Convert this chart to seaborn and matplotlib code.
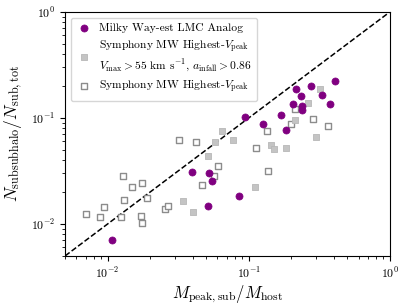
import numpy as np
import pandas as pd
import matplotlib
matplotlib.use('Agg')
import matplotlib.pyplot as plt
import seaborn as sns

# LMC analogs (purple circles)
lmc_mass = [0.0107, 0.0399, 0.0524, 0.0552, 0.0516, 0.0854, 0.0942, 0.1252, 0.1693,
            0.1837, 0.2070, 0.2174, 0.2346, 0.2397, 0.2373, 0.2775, 0.3304, 0.3765, 0.4105]
lmc_frac = [0.00708, 0.0310, 0.0305, 0.0257, 0.01482, 0.0183, 0.1020, 0.0876, 0.1077,
            0.0769, 0.1353, 0.1887, 0.1609, 0.1296, 0.1195, 0.1988, 0.1656, 0.1344, 0.2207]

# Symphony highest-Vpeak with Vmax / a_infall cut (filled grey squares)
cut_mass = [0.0647, 0.0573, 0.0770, 0.0515, 0.0401, 0.1108, 0.1432, 0.1511, 0.1837,
            0.2118, 0.2630, 0.3214, 0.2982, 0.0343]
cut_frac = [0.0757, 0.0599, 0.0618, 0.0439, 0.01293, 0.0224, 0.0555, 0.0509, 0.0523,
            0.0962, 0.1392, 0.1875, 0.0660, 0.0163]

# Symphony highest-Vpeak, all hosts (open squares)
all_mass = [0.00704, 0.00885, 0.00945, 0.0128, 0.0149, 0.0130, 0.0124, 0.0175, 0.0191,
            0.0172, 0.0175, 0.0255, 0.0318, 0.0420, 0.0606, 0.0565, 0.0467, 0.1121,
            0.1354, 0.1377, 0.2138, 0.1983, 0.2839, 0.3627, 0.0267]
all_frac = [0.0123, 0.01159, 0.0144, 0.0283, 0.0223, 0.0169, 0.01159, 0.0243, 0.01764,
            0.01193, 0.01024, 0.0138, 0.0618, 0.0596, 0.0351, 0.0283, 0.0233, 0.0523,
            0.0752, 0.0319, 0.1213, 0.0881, 0.0980, 0.0844, 0.01463]

plt.rcParams['font.family'] = 'serif'
plt.rcParams['font.serif'] = ['cmr10']
plt.rcParams['mathtext.fontset'] = 'cm'
plt.rcParams['axes.formatter.use_mathtext'] = True

fig, ax = plt.subplots(figsize=(4.07, 3.05), dpi=100)
fig.subplots_adjust(left=0.16, right=0.958, bottom=0.161, top=0.961)

sns.scatterplot(x=all_mass, y=all_frac, marker='s', s=22, facecolor='white',
                edgecolor='#8c8c8c', linewidth=1.0, ax=ax, zorder=2,
                label=r'Symphony MW Highest-$V_{\rm peak}$')
sns.scatterplot(x=cut_mass, y=cut_frac, marker='s', s=24, color='#c4c4c4',
                edgecolor='#b8b8b8', linewidth=0.6, ax=ax, zorder=3,
                label='Symphony MW Highest-$V_{\\rm peak}$\n'
                      r'$V_{\rm max} > 55$ km s$^{-1}$, $a_{\rm infall} > 0.86$')
sns.scatterplot(x=lmc_mass, y=lmc_frac, marker='o', s=26, color='purple',
                edgecolor='purple', linewidth=0.5, ax=ax, zorder=4,
                label='Milky Way-est LMC Analog')

ax.plot([0.005, 1], [0.005, 1], color='black', ls='--', lw=1.1, zorder=1)

ax.set_xscale('log')
ax.set_yscale('log')
ax.set_xlim(0.005, 1)
ax.set_ylim(0.005, 1)
ax.set_xlabel(r'$M_{\rm peak,sub}/M_{\rm host}$', fontsize=12, labelpad=2)
ax.set_ylabel(r'$N_{\rm subsubhalo}/N_{\rm sub,tot}$', fontsize=12.5, labelpad=4)
ax.tick_params(labelsize=8.5)

handles, labels = ax.get_legend_handles_labels()
order = [2, 1, 0]
ax.legend([handles[i] for i in order], [labels[i] for i in order],
          loc='upper left', fontsize=8.3, frameon=True, handletextpad=0.6,
          borderpad=0.5, labelspacing=0.45, handlelength=1.3)

plt.savefig('out.png', dpi=100)
